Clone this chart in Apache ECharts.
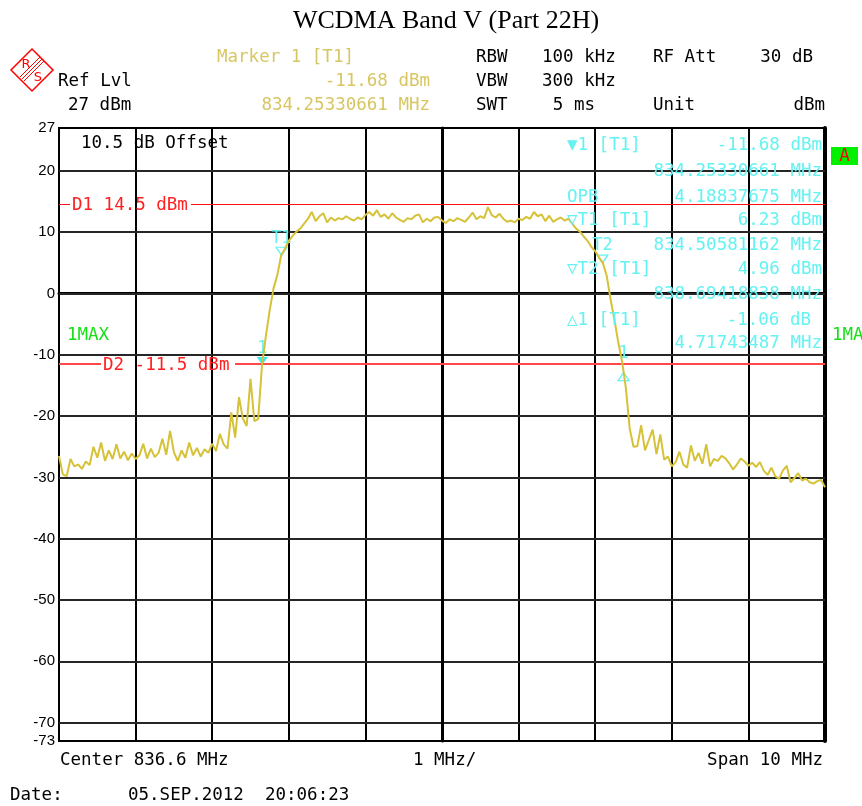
<!DOCTYPE html>
<html>
<head>
<meta charset="utf-8">
<script src="https://cdn.jsdelivr.net/npm/echarts@6/dist/echarts.min.js"></script>
<style>
  html, body { margin: 0; padding: 0; background: #fff; }
  #main { width: 862px; height: 806px; }
</style>
</head>
<body>
<div id="main"></div>
<script>
// sweep: center 836.6 MHz, span 10 MHz, trace points every 0.05 MHz
var centerFreq = 836.6;
var spanHalf = 5;
var sweepStep = 0.05;

// trace level in dBm, left to right
var traceLevels = [
  -26.5,-29.5,-29.8,-27.0,-28.2,-27.9,-28.6,-27.4,-28.0,-25.0,
  -26.8,-24.3,-27.3,-25.6,-27.0,-24.6,-26.9,-25.8,-27.2,-26.1,
  -27.0,-26.4,-24.5,-26.9,-25.3,-26.7,-26.0,-23.7,-26.3,-22.4,
  -25.9,-27.3,-25.6,-26.8,-24.3,-26.4,-25.2,-26.6,-25.4,-26.0,
  -24.5,-25.7,-22.9,-24.6,-25.3,-19.4,-23.5,-16.9,-20.4,-21.6,
  -13.9,-20.8,-20.5,-11.7,-7.0,-2.8,0.8,3.0,6.2,7.3,
  8.6,9.4,10.1,10.6,11.4,12.2,13.3,11.8,12.6,13.1,
  11.6,12.4,11.9,12.3,12.1,12.6,12.2,11.9,12.4,12.1,
  12.8,13.3,12.7,13.6,12.5,12.9,12.2,13.1,12.4,12.0,
  11.7,12.3,12.1,12.7,12.9,11.6,12.2,11.8,12.4,12.5,
  11.9,11.5,12.1,11.8,12.3,12.0,11.7,12.4,13.2,12.1,
  12.6,12.3,14.1,12.8,12.4,13.0,12.2,11.7,11.9,11.6,
  12.2,12.0,12.5,12.2,13.3,12.6,12.9,11.8,12.7,11.7,
  12.1,12.4,11.9,12.2,11.4,10.6,10.1,9.3,8.6,7.6,
  6.9,5.9,5.0,2.9,-0.9,-4.2,-7.9,-11.0,-15.4,-22.0,
  -25.0,-24.9,-21.5,-25.6,-23.9,-22.2,-26.2,-23.0,-27.1,-26.6,
  -28.2,-27.5,-25.8,-27.9,-28.4,-24.8,-27.3,-26.0,-27.8,-24.6,
  -28.2,-27.0,-27.3,-26.5,-26.9,-27.7,-28.7,-27.9,-26.9,-27.4,
  -28.1,-27.6,-28.3,-27.5,-28.9,-29.6,-28.4,-29.8,-30.2,-28.9,
  -28.1,-30.8,-30.1,-29.3,-30.5,-30.2,-30.8,-31.0,-30.6,-30.4,
  -31.6
];

// markers: 1, T1, T2, delta 1
var markerNames = ['1', 'T1', 'T2', '1'];
var markerFreqs = [834.25330661, 834.50581162, 838.69418838, 838.97074148];
var markerLevels = [-11.68, 6.23, 4.96, -12.74];

// display lines D1 / D2
var displayLines = [14.5, -11.5];

var yGridValues = [20, 10, 0, -10, -20, -30, -40, -50, -60, -70];
var yLabelValues = [27, 20, 10, 0, -10, -20, -30, -40, -50, -60, -70, -73];

var MONO = '17.5px "DejaVu Sans Mono"';
var YEL = '#d8c662';
var CYAN = '#66f2f2';
var RED = '#ff2020';
var GREEN = '#18e018';
var TRACE = '#d6c238';

var traceData = traceLevels.map(function (v, i) {
  return [+(-spanHalf + i * sweepStep).toFixed(3), v];
});

function txt(s, x, y, color, align, font) {
  return {
    type: 'text', x: x, y: y, z: 100, silent: true,
    style: {
      text: s, fill: color, font: font || MONO,
      textAlign: align || 'left', textVerticalAlign: 'middle'
    }
  };
}

var hollow = { color: 'rgba(0,0,0,0)', borderColor: CYAN, borderWidth: 1.3 };

// marker 1 filled, T1/T2 hollow pointing down, delta pointing up under the trace
var markerPoints = markerFreqs.map(function (f, k) {
  var delta = k === 3;
  return {
    coord: [f - centerFreq, markerLevels[k]],
    symbol: 'triangle',
    symbolRotate: delta ? 0 : 180,
    symbolSize: [11, 8],
    symbolOffset: [0, delta ? 5 : -4],
    itemStyle: k === 0 ? { color: '#3ee6f0' } : hollow,
    label: {
      show: true, formatter: markerNames[k], position: 'top',
      distance: delta ? 10 : 0, color: CYAN,
      fontFamily: 'DejaVu Sans Mono', fontSize: 17
    }
  };
});

// gaps in the display lines where their labels sit (MHz offsets)
var dLineSegs = [
  [[-5, -4.856], [-3.277, 5]],
  [[-5, -4.452], [-2.702, 5]]
];
var dLineStyles = [
  { color: '#ff1010', width: 1 },
  { color: '#ff4848', width: 2 }
];
var dLineData = [];
displayLines.forEach(function (lvl, k) {
  dLineSegs[k].forEach(function (seg) {
    dLineData.push([
      { coord: [seg[0], lvl], lineStyle: dLineStyles[k] },
      { coord: [seg[1], lvl] }
    ]);
  });
});

var gridLineData = yGridValues.map(function (v) { return { yAxis: v }; });
gridLineData.push({ xAxis: 0, lineStyle: { color: '#000', width: 3 } });

var chart = echarts.init(document.getElementById('main'));
chart.setOption({
  animation: false,
  backgroundColor: '#fff',
  title: {
    text: 'WCDMA Band V (Part 22H)',
    left: 441, top: 3, textAlign: 'center',
    textStyle: { fontFamily: 'Liberation Serif', fontSize: 26, fontWeight: 'normal', color: '#000' }
  },
  grid: {
    left: 59, top: 128, width: 766, height: 613,
    show: true, borderColor: '#000', borderWidth: 2
  },
  xAxis: [{
    type: 'value', min: -spanHalf, max: spanHalf, interval: 1,
    axisLabel: { show: false }, axisTick: { show: false },
    axisLine: { lineStyle: { color: '#000', width: 3 } },
    splitLine: { show: true, lineStyle: { color: '#000', width: 2 } }
  }],
  yAxis: [{
    type: 'value', min: -73, max: 27, position: 'left',
    axisTick: { show: false },
    axisLine: { show: true, lineStyle: { color: '#000', width: 3 } },
    splitLine: { show: false },
    axisLabel: {
      customValues: yLabelValues, margin: 4,
      color: '#000', fontFamily: 'Liberation Sans', fontSize: 15
    }
  }, {
    type: 'value', min: -73, max: 27, position: 'right',
    axisTick: { show: false }, axisLabel: { show: false },
    axisLine: { show: true, lineStyle: { color: '#000', width: 4 } },
    splitLine: { show: false }
  }],
  series: [{
    type: 'line', data: [], z: 1,
    markLine: {
      silent: true, symbol: ['none', 'none'], animation: false,
      label: { show: false },
      lineStyle: { color: '#262626', width: 2, type: 'solid' },
      data: gridLineData
    }
  }, {
    type: 'line', data: [], z: 2,
    markLine: {
      silent: true, symbol: ['none', 'none'], animation: false,
      label: { show: false },
      lineStyle: { type: 'solid' },
      data: dLineData
    }
  }, {
    type: 'line', data: traceData, z: 5,
    showSymbol: false, symbol: 'none',
    lineStyle: { color: TRACE, width: 2 },
    markPoint: { silent: true, animation: false, data: markerPoints }
  }],
  graphic: [
    // R&S logo
    { type: 'polygon', z: 100, shape: { points: [[32, 49], [53, 70], [32, 91], [11, 70]] },
      style: { fill: 'none', stroke: '#f00', lineWidth: 1.5 } },
    { type: 'line', z: 100, shape: { x1: 40, y1: 57, x2: 20, y2: 77 }, style: { stroke: '#f00', lineWidth: 1 } },
    { type: 'line', z: 100, shape: { x1: 42, y1: 59, x2: 22, y2: 79 }, style: { stroke: '#f00', lineWidth: 1 } },
    { type: 'line', z: 100, shape: { x1: 44, y1: 61, x2: 24, y2: 81 }, style: { stroke: '#f00', lineWidth: 1 } },
    txt('R', 26, 65, '#f00', 'center', '13px "DejaVu Sans"'),
    txt('S', 38, 78, '#f00', 'center', '13px "DejaVu Sans"'),

    // header
    txt('Marker 1 [T1]', 217, 57, YEL),
    txt('-11.68 dBm', 430, 81, YEL, 'right'),
    txt('834.25330661 MHz', 430, 105, YEL, 'right'),
    txt('Ref Lvl', 58, 81, '#000'),
    txt('27 dBm', 68, 105, '#000'),
    txt('RBW', 476, 57, '#000'),
    txt('100 kHz', 542, 57, '#000'),
    txt('RF Att', 653, 57, '#000'),
    txt('30 dB', 813, 57, '#000', 'right'),
    txt('VBW', 476, 81, '#000'),
    txt('300 kHz', 542, 81, '#000'),
    txt('SWT', 476, 105, '#000'),
    txt('5 ms', 595, 105, '#000', 'right'),
    txt('Unit', 653, 105, '#000'),
    txt('dBm', 825, 105, '#000', 'right'),

    // inside the plot
    txt('10.5 dB Offset', 81, 143, '#000'),
    txt('D1 14.5 dBm', 72, 205, RED),
    txt('D2 -11.5 dBm', 103, 365, RED),
    txt('1MAX', 67, 335, GREEN),

    // marker table
    txt('\u25BC1 [T1]', 567, 145, CYAN),
    txt('-11.68 dBm', 822, 145, CYAN, 'right'),
    txt('834.25330661 MHz', 822, 171, CYAN, 'right'),
    txt('OPB', 567, 197, CYAN),
    txt('4.18837675 MHz', 822, 197, CYAN, 'right'),
    txt('\u25BDT1 [T1]', 567, 220, CYAN),
    txt('6.23 dBm', 822, 220, CYAN, 'right'),
    txt('834.50581162 MHz', 822, 245, CYAN, 'right'),
    txt('\u25BDT2 [T1]', 567, 269, CYAN),
    txt('4.96 dBm', 822, 269, CYAN, 'right'),
    txt('838.69418838 MHz', 822, 294, CYAN, 'right'),
    txt('\u25B31 [T1]', 567, 320, CYAN),
    txt('-1.06 dB', 811, 320, CYAN, 'right'),
    txt('4.71743487 MHz', 822, 343, CYAN, 'right'),

    // right side
    { type: 'rect', z: 100, shape: { x: 831, y: 147, width: 27, height: 18 }, style: { fill: '#00f000' } },
    txt('A', 844.5, 156, '#f00', 'center'),
    txt('1MA', 832, 335, GREEN),

    // footer
    txt('Center 836.6 MHz', 60, 760, '#000'),
    txt('1 MHz/', 413, 760, '#000'),
    txt('Span 10 MHz', 823, 760, '#000', 'right'),
    txt('Date:', 10, 795, '#000'),
    txt('05.SEP.2012  20:06:23', 128, 795, '#000')
  ]
});
</script>
</body>
</html>
